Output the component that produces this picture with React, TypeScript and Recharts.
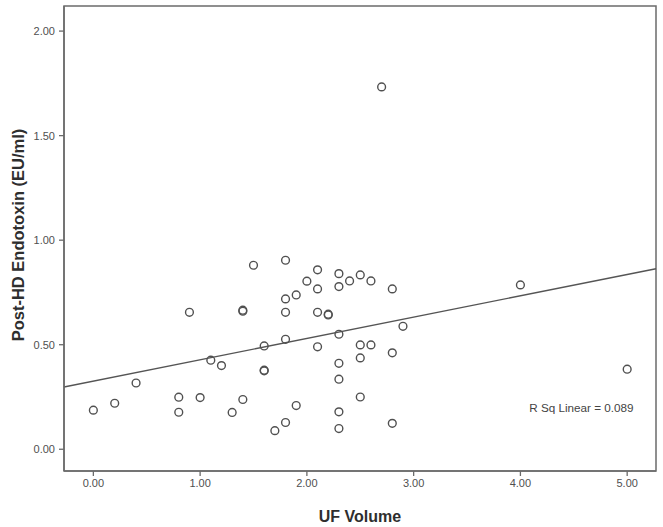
import React from "react";
import {
  ScatterChart,
  Scatter,
  XAxis,
  YAxis,
  ReferenceLine,
  ReferenceArea,
  ReferenceDot,
} from "recharts";

// UF volume vs post-HD endotoxin
const ufVolume = [
  0.0, 0.2, 0.4, 0.8, 0.8, 0.9, 1.0, 1.1, 1.2, 1.3, 1.4, 1.4, 1.4, 1.5, 1.6,
  1.6, 1.6, 1.7, 1.8, 1.8, 1.8, 1.8, 1.8, 1.9, 1.9, 2.0, 2.1, 2.1, 2.1, 2.1,
  2.2, 2.2, 2.3, 2.3, 2.3, 2.3, 2.3, 2.3, 2.3, 2.4, 2.5, 2.5, 2.5, 2.5, 2.6,
  2.6, 2.7, 2.8, 2.8, 2.8, 2.9, 4.0, 5.0,
];
const endotoxin = [
  0.187, 0.22, 0.317, 0.249, 0.177, 0.655, 0.247, 0.426, 0.4, 0.176, 0.665,
  0.66, 0.238, 0.88, 0.494, 0.378, 0.375, 0.089, 0.904, 0.719, 0.655, 0.526,
  0.128, 0.738, 0.209, 0.804, 0.858, 0.767, 0.655, 0.49, 0.646, 0.642, 0.84,
  0.778, 0.55, 0.411, 0.335, 0.179, 0.099, 0.805, 0.834, 0.499, 0.437, 0.25,
  0.805, 0.499, 1.733, 0.767, 0.461, 0.124, 0.588, 0.786, 0.383,
];

const xTicks = [0, 1, 2, 3, 4, 5];
const yTicks = [0, 0.5, 1, 1.5, 2];

// fit line as drawn (R Sq Linear = 0.089)
const fitIntercept = 0.326;
const fitSlope = 0.102;
const rSqText = "R Sq Linear = 0.089";

const xDomain: [number, number] = [-0.275, 5.27];
const yDomain: [number, number] = [-0.104, 2.12];

const points = ufVolume.map((x, i) => ({ x, y: endotoxin[i] }));

const font = '"Liberation Sans", Arial, sans-serif';
const frame = "#6b6b6b";
const tickStyle = { fontSize: 11, fill: "#505050", fontFamily: font };
const titleStyle = {
  fontSize: 16,
  fontWeight: "bold",
  fill: "#2e2e2e",
  fontFamily: font,
};

const Ring = (p: any) => (
  <circle
    cx={p.cx}
    cy={p.cy}
    r={3.9}
    fill="none"
    stroke="#505050"
    strokeWidth={1.4}
  />
);

export default function App() {
  return (
    <div style={{ position: "absolute", left: 0, top: 0, background: "#fff" }}>
      <ScatterChart
        width={663}
        height={527}
        margin={{ top: 6, right: 7, bottom: 0, left: 0 }}
      >
        <XAxis
          type="number"
          dataKey="x"
          domain={xDomain}
          ticks={xTicks}
          allowDataOverflow
          tickFormatter={(v: number) => v.toFixed(2)}
          tick={tickStyle}
          tickSize={5}
          tickMargin={3}
          height={56}
          axisLine={{ stroke: frame, strokeWidth: 1.5 }}
          tickLine={{ stroke: frame, strokeWidth: 1.3 }}
          label={{
            value: "UF Volume",
            position: "insideBottom",
            offset: 5,
            style: titleStyle,
          }}
        />
        <YAxis
          type="number"
          dataKey="y"
          domain={yDomain}
          ticks={yTicks}
          allowDataOverflow
          tickFormatter={(v: number) => v.toFixed(2)}
          tick={tickStyle}
          tickSize={5}
          tickMargin={4}
          width={64}
          axisLine={{ stroke: frame, strokeWidth: 1.5 }}
          tickLine={{ stroke: frame, strokeWidth: 1.3 }}
          label={{
            content: () => (
              <text
                x={18}
                y={235}
                transform="rotate(-90 18 235)"
                textAnchor="middle"
                dominantBaseline="central"
                style={{ ...titleStyle, fontSize: 16.5 }}
              >
                Post-HD Endotoxin (EU/ml)
              </text>
            ),
          }}
        />
        <ReferenceArea
          x1={xDomain[0]}
          x2={xDomain[1]}
          y1={yDomain[0]}
          y2={yDomain[1]}
          fill="none"
          stroke={frame}
          strokeWidth={1.5}
          fillOpacity={0}
        />
        <ReferenceLine
          segment={[
            { x: xDomain[0], y: fitIntercept + fitSlope * xDomain[0] },
            { x: xDomain[1], y: fitIntercept + fitSlope * xDomain[1] },
          ]}
          stroke="#555"
          strokeWidth={1.4}
        />
        <Scatter data={points} shape={Ring} isAnimationActive={false} />
        <ReferenceDot
          x={5.06}
          y={0.196}
          r={0}
          fill="none"
          stroke="none"
          label={{
            value: rSqText,
            position: "left",
            offset: 0,
            style: { fontSize: 11.7, fill: "#444", fontFamily: font },
          }}
        />
      </ScatterChart>
    </div>
  );
}
